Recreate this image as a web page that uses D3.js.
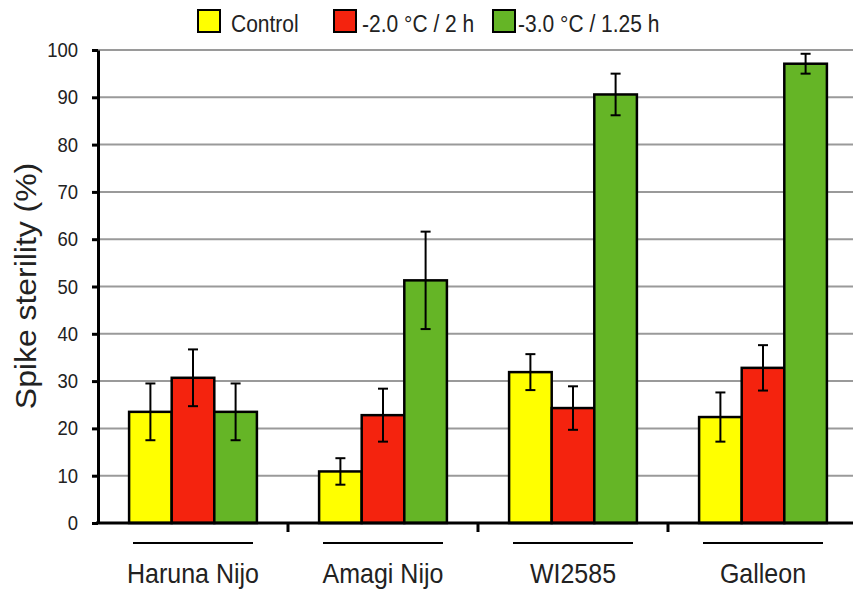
<!DOCTYPE html>
<html>
<head>
<meta charset="utf-8">
<script src="https://cdn.jsdelivr.net/npm/d3@7"></script>
<style>
  body { margin: 0; background: #fff; }
  svg { display: block; font-family: "Liberation Sans", Arial, sans-serif; }
</style>
</head>
<body>
<svg id="chart"></svg>
<script>
// data
let categories = ["Haruna Nijo", "Amagi Nijo", "WI2585", "Galleon"];
let seriesNames = ["Control", "-2.0 °C / 2 h", "-3.0 °C / 1.25 h"];
let seriesColors = ["#ffff00", "#f4230e", "#65b526"];
let controlValues = [23.5, 10.9, 31.9, 22.4];
let controlErrors = [6.0, 2.8, 3.8, 5.2];
let mildValues = [30.7, 22.8, 24.3, 32.8];
let mildErrors = [6.0, 5.6, 4.6, 4.8];
let severeValues = [23.5, 51.3, 90.6, 97.1];
let severeErrors = [6.0, 10.3, 4.4, 2.1];
let yTicks = [0, 10, 20, 30, 40, 50, 60, 70, 80, 90, 100];

let width = 853;
let height = 592;
let stretch = 1.1; // text in the picture is a bit taller than wide

let svg = d3.select("#chart").attr("width", width).attr("height", height);

let xScale = d3.scaleBand().domain(categories).range([98, 858]).padding(0);
let innerScale = d3.scaleBand().domain(seriesNames)
  .range([0, xScale.bandwidth()]).paddingInner(0).paddingOuter(0.73);
let yScale = d3.scaleLinear().domain([0, 100]).range([523, 50]);

let allValues = [controlValues, mildValues, severeValues];
let allErrors = [controlErrors, mildErrors, severeErrors];

let rows = [];
categories.forEach((cat, i) => {
  seriesNames.forEach((s, j) => {
    rows.push({ cat: cat, series: s, color: seriesColors[j], value: allValues[j][i], err: allErrors[j][i] });
  });
});

// gridlines
svg.append("g")
  .selectAll("line")
  .data(yTicks.slice(1))
  .enter()
  .append("line")
  .attr("x1", 98)
  .attr("x2", width)
  .attr("y1", (d) => yScale(d))
  .attr("y2", (d) => yScale(d))
  .attr("stroke", "#9a9a9a")
  .attr("stroke-width", 2);

// bars
svg.append("g")
  .selectAll("rect")
  .data(rows)
  .enter()
  .append("rect")
  .attr("x", (d) => xScale(d.cat) + innerScale(d.series))
  .attr("y", (d) => yScale(d.value))
  .attr("width", innerScale.bandwidth())
  .attr("height", (d) => yScale(0) - yScale(d.value))
  .attr("fill", (d) => d.color)
  .attr("stroke", "#000")
  .attr("stroke-width", 2.5);

// error bars
let errG = svg.append("g").attr("stroke", "#000").attr("stroke-width", 2);
rows.forEach((d) => {
  let cx = xScale(d.cat) + innerScale(d.series) + innerScale.bandwidth() / 2;
  let top = yScale(d.value + d.err);
  let bottom = yScale(d.value - d.err);
  errG.append("line").attr("x1", cx).attr("x2", cx).attr("y1", top).attr("y2", bottom);
  errG.append("line").attr("x1", cx - 5).attr("x2", cx + 5).attr("y1", top).attr("y2", top);
  errG.append("line").attr("x1", cx - 5).attr("x2", cx + 5).attr("y1", bottom).attr("y2", bottom);
});

// y axis
let yAxis = d3.axisLeft(yScale).tickValues(yTicks).tickSize(6).tickSizeOuter(0).tickPadding(14);
let yAxisG = svg.append("g").attr("transform", "translate(98,0)").call(yAxis);
yAxisG.select(".domain").attr("stroke-width", 3);
yAxisG.selectAll(".tick line").attr("stroke-width", 3);
yAxisG.selectAll(".tick text")
  .attr("font-size", 18.5)
  .attr("font-family", "Liberation Sans, Arial, sans-serif")
  .attr("fill", "#222")
  .attr("transform", `scale(1,${stretch})`);

// x axis baseline and category separators
svg.append("line")
  .attr("x1", 96).attr("x2", width)
  .attr("y1", yScale(0)).attr("y2", yScale(0))
  .attr("stroke", "#000").attr("stroke-width", 3);

svg.append("g")
  .selectAll("line")
  .data(categories.slice(1))
  .enter()
  .append("line")
  .attr("x1", (d) => xScale(d))
  .attr("x2", (d) => xScale(d))
  .attr("y1", yScale(0))
  .attr("y2", yScale(0) + 9)
  .attr("stroke", "#000")
  .attr("stroke-width", 3);

// underlines and labels
let catG = svg.append("g")
  .selectAll("g")
  .data(categories)
  .enter()
  .append("g")
  .attr("transform", (d) => `translate(${xScale(d) + xScale.bandwidth() / 2},0)`);

catG.append("line")
  .attr("x1", -60).attr("x2", 60)
  .attr("y1", 543).attr("y2", 543)
  .attr("stroke", "#000").attr("stroke-width", 2);

catG.append("text")
  .attr("transform", `translate(0,583) scale(1,${stretch})`)
  .attr("text-anchor", "middle")
  .attr("font-size", 25)
  .attr("fill", "#222")
  .text((d) => d);

// y title
svg.append("text")
  .attr("transform", `translate(36,286) scale(1,${stretch}) rotate(-90)`)
  .attr("text-anchor", "middle")
  .attr("font-size", 29)
  .attr("fill", "#222")
  .text("Spike sterility (%)");

// legend
let legendX = [198, 334, 493];
let legend = svg.append("g")
  .selectAll("g")
  .data(seriesNames)
  .enter()
  .append("g")
  .attr("transform", (d, i) => `translate(${legendX[i]},10)`);

legend.append("rect")
  .attr("width", 22)
  .attr("height", 22)
  .attr("fill", (d, i) => seriesColors[i])
  .attr("stroke", "#000")
  .attr("stroke-width", 2);

legend.append("text")
  .attr("transform", (d, i) => `translate(${i == 0 ? 33 : (i == 1 ? 28 : 25)},22) scale(1,${stretch})`)
  .attr("font-size", 21)
  .attr("fill", "#222")
  .text((d) => d);
</script>
</body>
</html>
